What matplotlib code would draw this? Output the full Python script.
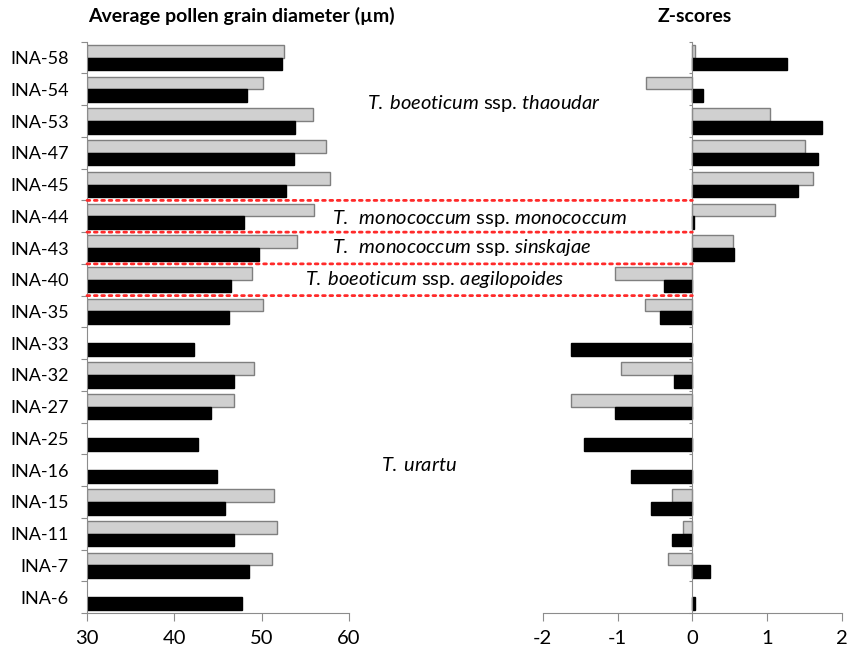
import numpy as np
import matplotlib
matplotlib.use("Agg")
import matplotlib.pyplot as plt
from matplotlib.patches import ConnectionPatch

plt.rcParams['font.family'] = ['Lato', 'DejaVu Sans']
plt.rcParams['mathtext.fontset'] = 'custom'
plt.rcParams['mathtext.rm'] = 'Lato'
plt.rcParams['mathtext.it'] = 'Lato:italic'
plt.rcParams['axes.unicode_minus'] = False

# accessions, top to bottom
accessions = ['INA-58', 'INA-54', 'INA-53', 'INA-47', 'INA-45', 'INA-44',
              'INA-43', 'INA-40', 'INA-35', 'INA-33', 'INA-32', 'INA-27',
              'INA-25', 'INA-16', 'INA-15', 'INA-11', 'INA-7', 'INA-6']

nan = np.nan
# average pollen grain diameter (um)
diam_grey = [52.6, 50.2, 55.9, 57.4, 57.8, 56.0, 54.1, 48.9, 50.2, nan,
             49.1, 46.8, nan, nan, 51.4, 51.7, 51.2, nan]
diam_black = [52.3, 48.3, 53.8, 53.7, 52.8, 48.0, 49.7, 46.5, 46.3, 42.2,
              46.8, 44.2, 42.7, 44.9, 45.8, 46.8, 48.5, 47.8]

# z-scores
z_grey = [0.04, -0.62, 1.04, 1.50, 1.61, 1.10, 0.54, -1.03, -0.63, nan,
          -0.96, -1.62, nan, nan, -0.27, -0.13, -0.33, nan]
z_black = [1.27, 0.14, 1.73, 1.68, 1.41, 0.02, 0.55, -0.38, -0.43, -1.62,
           -0.25, -1.04, -1.45, -0.82, -0.55, -0.27, 0.23, 0.04]

# group separators (between rows)
separators = [4.5, 5.5, 6.5, 7.5]

W, H = 847, 652
fig = plt.figure(figsize=(W / 100, H / 100), dpi=100)


def fx(px):
    return px / W


def fy(py):
    return 1 - py / H


ax1 = fig.add_axes([fx(87), fy(613), fx(349) - fx(87), fy(41.7) - fy(613)])
ax2 = fig.add_axes([fx(542.7), fy(613), fx(842) - fx(542.7), fy(41.7) - fy(613)])

y = np.arange(len(accessions))
h = 0.4
grey_kw = dict(height=h, color='#d0d0d0', edgecolor='#7f7f7f', linewidth=1)
black_kw = dict(height=h, color='black', edgecolor='black', linewidth=1)

ax1.barh(y - 0.2, np.array(diam_grey) - 30, left=30, **grey_kw)
ax1.barh(y + 0.2, np.array(diam_black) - 30, left=30, **black_kw)
ax2.barh(y - 0.2, z_grey, **grey_kw)
ax2.barh(y + 0.2, z_black, **black_kw)

spine_col = '#8c8c8c'
for ax in (ax1, ax2):
    ax.set_ylim(len(accessions) - 0.5, -0.5)
    ax.spines['top'].set_visible(False)
    ax.spines['right'].set_visible(False)
    ax.spines['left'].set_color(spine_col)
    ax.spines['bottom'].set_color(spine_col)
    ax.set_yticks(np.arange(len(accessions) + 1) - 0.5)
    ax.set_yticklabels([])
    ax.tick_params(axis='y', which='major', length=4, color=spine_col)
    ax.tick_params(axis='x', length=6, color=spine_col, labelsize=14.5, pad=6)

ax1.set_xlim(30, 60)
ax1.set_xticks([30, 40, 50, 60])
ax1.set_yticks(y, minor=True)
ax1.set_yticklabels(accessions, minor=True, fontsize=13)
ax1.tick_params(axis='y', which='minor', length=0, pad=13)

ax2.set_xlim(-2, 2)
ax2.set_xticks([-2, -1, 0, 1, 2])
ax2.spines['left'].set_position(('data', 0))
ax2.tick_params(axis='y', which='major', length=2)

# red dotted group separators spanning both panels
for s in separators:
    con = ConnectionPatch(xyA=(30, s), coordsA='data', axesA=ax1,
                          xyB=(0, s), coordsB='data', axesB=ax2,
                          color='#ff2a2a', linestyle=':', linewidth=2)
    fig.add_artist(con)

fig.text(fx(88), fy(16), 'Average pollen grain diameter (µm)',
         fontsize=14, fontweight='bold', va='center')
fig.text(fx(658), fy(16), 'Z-scores', fontsize=14, fontweight='bold',
         va='center')

fs = 14.5
fig.text(fx(367), fy(103), r'$\mathit{T.\:boeoticum}$ ssp. $\mathit{thaoudar}$',
         fontsize=fs, va='center')
fig.text(fx(332), fy(218), r'$\mathit{T.\ \,monococcum}$ ssp. $\mathit{monococcum}$',
         fontsize=fs, va='center')
fig.text(fx(332), fy(248), r'$\mathit{T.\ \,monococcum}$ ssp. $\mathit{sinskajae}$',
         fontsize=fs, va='center')
fig.text(fx(305), fy(280), r'$\mathit{T.\:boeoticum}$ ssp. $\mathit{aegilopoides}$',
         fontsize=fs, va='center')
fig.text(fx(381), fy(465), r'$\mathit{T.\:urartu}$', fontsize=fs, va='center')

fig.savefig('out.png', dpi=100)
